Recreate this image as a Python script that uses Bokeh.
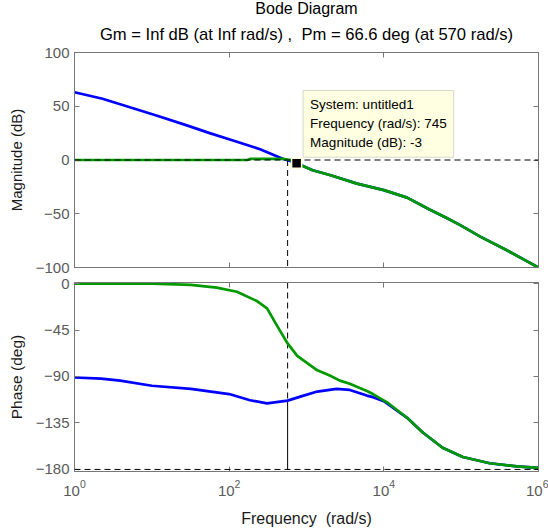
from bokeh.plotting import figure
from bokeh.layouts import column
from bokeh.models import LogAxis, LinearAxis, FixedTicker, Title, Label, Span
from bokeh.embed import file_html
from bokeh.resources import INLINE

# ---------------- data ----------------
# magnitude, open loop (blue) and closed loop (green)
mag_blue_freq = [1, 2.3, 5.2, 12, 29, 56, 126, 251, 501, 617, 745, 1200, 2000, 4500,
                 10000, 20000, 39000, 65000, 100000, 174000, 390000, 1000000]
mag_blue_db = [63, 57, 49, 41, 32, 25, 17, 10, 1, -1, -3, -9.5, -14, -22,
               -28, -35, -46, -54, -61, -71, -84, -100]
mag_green_freq = [1, 10, 100, 170, 186, 300, 501, 617, 745, 1200, 2000, 4500,
                  10000, 20000, 39000, 65000, 100000, 174000, 390000, 1000000]
mag_green_db = [0, 0, 0, 0, 1, 1, 1, 0, -3, -9.5, -14, -22,
                -28, -35, -46, -54, -61, -71, -84, -100]

# phase
ph_blue_freq = [1, 2.2, 3.9, 10, 32, 100, 186, 309, 570, 832, 1380, 2450, 3630, 6030,
                7240, 10000, 20000, 31600, 57500, 105000, 234000, 525000, 1000000]
ph_blue_deg = [-91, -92, -94, -99, -102, -107, -113, -116, -113.4, -109.5, -104.6, -102,
               -103, -108.5, -110, -114, -130, -144, -159, -168, -174, -177, -178.5]
ph_green_freq = [1, 10, 32, 69, 126, 229, 309, 417, 570, 759, 1380, 2000, 2700, 3630,
                 6030, 7240, 11000, 20000, 31600, 57500, 105000, 234000, 525000, 1000000]
ph_green_deg = [0, 0, -1.3, -4, -8, -17, -24, -41, -58, -70, -84, -89, -94, -97,
                -104, -107, -115, -130, -144, -159, -168, -174, -177, -178.5]

# margins and data tip
gm_text = "Inf"
pm_deg = 66.6
wc = 570
tip_freq = [745]
tip_mag = [-3]

x_ticks = [1, 100, 10000, 1000000]
mag_ticks = [-100, -50, 0, 50, 100]
ph_ticks = [-180, -135, -90, -45, 0]

# ---------------- style ----------------
FONT = "Liberation Sans"
FRAME = "#777777"
TICKTXT = "#5a5a5a"
BLUE = "#0000ff"
GREEN = "#009a00"
LW = 2.7
NB = "\u00a0"


def hide_labels(ax):
    ax.major_label_text_font_size = "1px"
    ax.major_label_text_alpha = 0
    ax.major_label_standoff = 0


def style_axes(p, yticks, show_x_labels):
    p.grid.visible = False
    p.outline_line_color = FRAME
    p.background_fill_color = "white"
    p.border_fill_color = "white"
    for ax in p.xaxis + p.yaxis:
        ax.axis_line_color = FRAME
        ax.major_tick_line_color = FRAME
        ax.major_tick_in = 5
        ax.major_tick_out = 0
        ax.minor_tick_in = 0
        ax.minor_tick_out = 0
        ax.major_label_text_font = FONT
        ax.major_label_text_font_size = "15px"
        ax.major_label_text_color = TICKTXT
        ax.axis_label_text_font = FONT
        ax.axis_label_text_font_size = "15px"
        ax.axis_label_text_font_style = "normal"
        ax.axis_label_text_color = "#1a1a1a"
    p.xaxis.ticker = FixedTicker(ticks=x_ticks, minor_ticks=[])
    p.yaxis.ticker = FixedTicker(ticks=yticks, minor_ticks=[])
    p.yaxis.major_label_standoff = 5
    p.yaxis.axis_label_standoff = 8
    if not show_x_labels:
        hide_labels(p.xaxis[0])
    # mirror axes
    ra = LinearAxis(ticker=FixedTicker(ticks=yticks, minor_ticks=[]))
    ta = LogAxis(ticker=FixedTicker(ticks=x_ticks, minor_ticks=[]))
    for ax in (ra, ta):
        ax.axis_line_color = FRAME
        ax.major_tick_line_color = FRAME
        ax.major_tick_in = 5
        ax.major_tick_out = 0
        ax.minor_tick_in = 0
        ax.minor_tick_out = 0
        hide_labels(ax)
    p.add_layout(ra, "right")
    p.add_layout(ta, "above")


x_range = (1, 1e6)
mag_range = (-100, 100)
ph_range = (-182, 1)

top = figure(width=548, height=274, x_axis_type="log", x_range=x_range,
             y_range=mag_range, output_backend="svg", toolbar_location=None,
             min_border_left=74, min_border_right=10, min_border_top=52,
             min_border_bottom=7)
top.yaxis.axis_label = "Magnitude (dB)"
style_axes(top, mag_ticks, False)

bot = figure(width=548, height=256, x_axis_type="log", x_range=top.x_range,
             y_range=ph_range, output_backend="svg", toolbar_location=None,
             min_border_left=74, min_border_right=10, min_border_top=8,
             min_border_bottom=59)
bot.yaxis.axis_label = "Phase (deg)"
bot.xaxis.axis_label = "Frequency" + NB + " (rad/s)"
style_axes(bot, ph_ticks, True)
bot.yaxis.axis_label_text_font_size = "15.5px"
bot.xaxis.axis_label_text_font_size = "16px"
bot.xaxis.major_label_standoff = 8
bot.xaxis.axis_label_standoff = 11

# titles (second line nearest the frame)
t2 = Title(text="Gm = %s dB (at %s rad/s) ," % (gm_text, gm_text) + NB + " Pm = %.1f deg (at %d rad/s)" % (pm_deg, wc),
           align="center", text_font=FONT, text_font_size="16.6px",
           text_font_style="normal", text_color="black", standoff=18, offset=0)
t1 = Title(text="Bode Diagram", align="center", text_font=FONT, text_font_size="16px",
           text_font_style="normal", text_color="black", standoff=-6, offset=0)
top.add_layout(t2, "above")
top.add_layout(t1, "above")

# margin reference lines (magnitude)
top.add_layout(Span(location=0, dimension="width", line_color="black",
                    line_dash="6 4", line_width=1))
top.segment(x0=[wc], y0=[0], x1=[wc], y1=[mag_range[0]], line_color="black",
            line_dash="6 4", line_width=1)

# curves (magnitude)
top.line(mag_blue_freq, mag_blue_db, line_color=BLUE, line_width=LW)
top.line(mag_green_freq, mag_green_db, line_color=GREEN, line_width=LW)

# data tip
top.scatter(tip_freq, tip_mag, marker="square", size=10, fill_color="black",
            line_color="#ffffd8", line_width=1.5)
tip = Label(x=tip_freq[0], y=tip_mag[0], x_offset=6.5, y_offset=6,
            text="System: untitled1\nFrequency (rad/s): %d\nMagnitude (dB): %d" % (tip_freq[0], tip_mag[0]),
            text_font=FONT, text_font_size="13.5px", text_color="black",
            text_align="left", text_baseline="bottom", text_line_height=1.26,
            background_fill_color="#ffffe1", border_line_color="#d8d8c8",
            padding=7)
top.add_layout(tip)

# margin reference lines (phase)
pm_level = -180 + pm_deg
bot.add_layout(Span(location=-180, dimension="width", line_color="black",
                    line_dash="6 4", line_width=1))
bot.segment(x0=[wc], y0=[ph_range[1]], x1=[wc], y1=[pm_level], line_color="black",
            line_dash="6 4", line_width=1)
bot.segment(x0=[wc], y0=[pm_level], x1=[wc], y1=[-180], line_color="black",
            line_width=1)

# curves (phase)
bot.line(ph_blue_freq, ph_blue_deg, line_color=BLUE, line_width=LW)
bot.line(ph_green_freq, ph_green_deg, line_color=GREEN, line_width=LW)

layout = column(top, bot, spacing=0)
open("out.html", "w").write(file_html(layout, INLINE))
